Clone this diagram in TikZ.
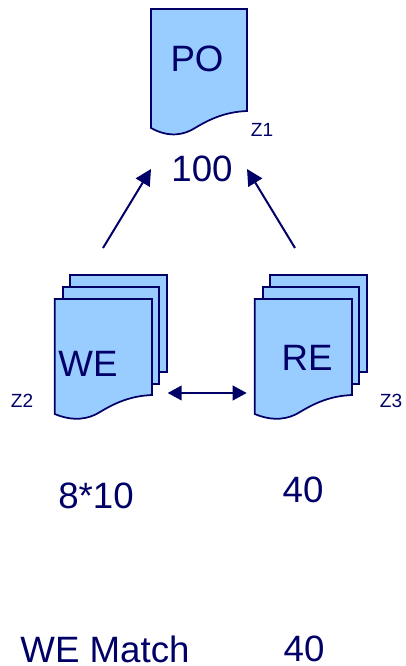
\documentclass[tikz,border=0pt]{standalone}
\usepackage{fontspec}
\setmainfont{Liberation Sans}
\usetikzlibrary{arrows.meta}
\definecolor{navy}{HTML}{000066}
\definecolor{docblue}{HTML}{99CCFF}
\newcommand{\docsheet}[5]{% x0 x1 ytop yleftbottom yrightbottom
  \draw[docshape] (#1,#3) -- (#2,#3) -- (#2,#5)
    .. controls ({#2-22},{#5+1}) and ({#2-37},{#5+8}) .. ({#2-52},{#5+17})
    .. controls ({#2-63},{#5+24}) and ({#2-78},{#5+27}) .. (#1,#4) -- cycle;}
\tikzset{
  docshape/.style={draw=navy,fill=docblue,line width=1.3pt,line join=miter},
  big/.style={text=navy,font=\fontsize{27.5}{27.5}\selectfont,inner sep=0pt},
  tiny/.style={text=navy,font=\fontsize{14.3}{14.3}\selectfont,inner sep=0pt},
  conn/.style={draw=navy,line width=1.5pt,-{Triangle[length=12pt,width=12pt]}},
  conn2/.style={draw=navy,line width=1.5pt,{Triangle[length=10.5pt,width=11pt]}-{Triangle[length=10.5pt,width=11pt]}}
}
\begin{document}
\begin{tikzpicture}[x=0.75pt,y=-0.75pt]
\useasboundingbox (0,0) rectangle (405,666);
% PO
\docsheet{151}{247}{9}{128}{111}
% WE stack
\draw[docshape] (70,274.7) -- (167.3,274.7) -- (167.3,371.7) -- (70,371.7) -- cycle;
\draw[docshape] (62.7,286.7) -- (158.7,286.7) -- (158.7,384) -- (62.7,384) -- cycle;
\docsheet{54.7}{152}{299}{414}{395}
% RE stack
\draw[docshape] (270,274.7) -- (367.3,274.7) -- (367.3,371.7) -- (270,371.7) -- cycle;
\draw[docshape] (262.7,286.7) -- (358.7,286.7) -- (358.7,384) -- (262.7,384) -- cycle;
\docsheet{254.7}{352}{299}{414}{395}
% labels
\node[big] (po) at (197,59) {PO};
\node[big] (we) at (88,364) {WE};
\node[big] (re) at (307,358) {RE};
\node[tiny] (z1) at (262,130) {Z1};
\node[tiny] (z2) at (22,401) {Z2};
\node[tiny] (z3) at (391,401) {Z3};
\node[big] (hundred) at (202,168.5) {100};
\node[big] (eightten) at (96,496) {8*10};
\node[big] (forty) at (303,490) {40};
\node[big] (match) at (105,649) {WE Match};
\node[big] (fortyb) at (304,649) {40};
% connectors
\coordinate (a1) at (103,248);
\coordinate (a2) at (151,169);
\coordinate (b1) at (295,248);
\coordinate (b2) at (247,169);
\coordinate (c1) at (167.7,393);
\coordinate (c2) at (246.7,393);
\draw[conn] (a1) -- (a2);
\draw[conn] (b1) -- (b2);
\draw[conn2] (c1) -- (c2);
\end{tikzpicture}
\end{document}
